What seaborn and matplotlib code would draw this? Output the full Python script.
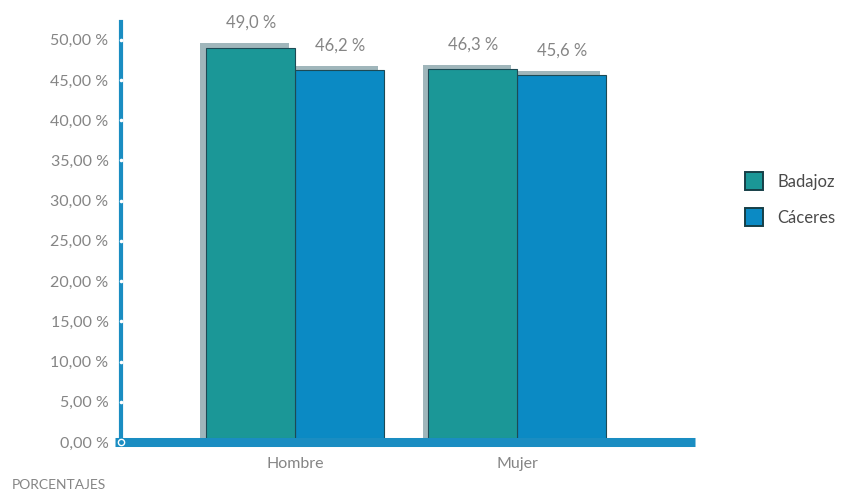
import pandas as pd
import matplotlib.pyplot as plt
import matplotlib.patheffects as pe
from matplotlib.lines import Line2D
import seaborn as sns

# Data: porcentajes por sexo y provincia
categorias = ['Hombre', 'Mujer']
provincias = ['Badajoz', 'Cáceres']
badajoz = [49.0, 46.3]
caceres = [46.2, 45.6]
yticks = [0, 5, 10, 15, 20, 25, 30, 35, 40, 45, 50]

df = pd.DataFrame({
    'Sexo': categorias * 2,
    'Provincia': [provincias[0]] * 2 + [provincias[1]] * 2,
    'Porcentaje': badajoz + caceres,
})

teal = '#1b9797'
blue = '#0b8ac4'
axis_blue = '#1a8dc2'
shadow = '#a0b6bb'
grey = '#858585'

sns.set_style('white')
plt.rcParams['font.family'] = ['Lato', 'DejaVu Sans']

fig = plt.figure(figsize=(8.48, 4.97), dpi=100)
ax = fig.add_axes([0.1427, 0.1107, 0.677, 0.845])

sns.barplot(data=df, x='Sexo', y='Porcentaje', hue='Provincia', hue_order=provincias,
            palette=[teal, blue], width=0.8, saturation=1, edgecolor='#1d4a55',
            linewidth=0.8, legend=False, ax=ax)

# shadows behind the bars; Badajoz on top of the Cáceres shadow
for z, cont in zip([3, 2], ax.containers):
    for p in cont:
        p.set_zorder(z)
        p.set_path_effects([pe.SimplePatchShadow(offset=(-4.3, 3.2), shadow_rgbFace=shadow, alpha=1),
                            pe.Normal()])

for cont in ax.containers:
    labels = [f'{v:.1f} %'.replace('.', ',') for v in cont.datavalues]
    ax.bar_label(cont, labels=labels, padding=12, color=grey, fontsize=12)

ax.set_xlim(-0.784, 1.80)
ax.set_ylim(0, 52.2)
ax.set_yticks(yticks)
ax.set_yticklabels([f'{v:.2f} %'.replace('.', ',') for v in yticks], color=grey, fontsize=11.5)
ax.tick_params(axis='y', length=0, pad=9)
ax.tick_params(axis='x', length=0, pad=11, labelcolor=grey, labelsize=11.5)
ax.set_xlabel('')
ax.set_ylabel('')

for s in ['top', 'right', 'bottom']:
    ax.spines[s].set_visible(False)
ax.spines['left'].set_color(axis_blue)
ax.spines['left'].set_linewidth(3)
ax.spines['left'].set_zorder(6)

# thick base bar
ax.plot([-0.81, 1.80], [0, 0], color=axis_blue, lw=6.5, solid_capstyle='butt',
        clip_on=False, zorder=5)
# small white dots on the axis at each tick
tr = ax.get_yaxis_transform()
ax.plot([0] * (len(yticks) - 1), yticks[1:], 'o', color='white', ms=1.6, transform=tr,
        clip_on=False, zorder=7)
ax.plot([0], [0], 'o', mfc=axis_blue, mec='white', mew=1, ms=4.5, transform=tr,
        clip_on=False, zorder=7)

handles = [Line2D([], [], marker='s', ls='', ms=13, mfc=c, mec='#163f47', mew=1.4)
           for c in [teal, blue]]
fig.legend(handles, provincias, loc='center left', bbox_to_anchor=(0.852, 0.597),
           frameon=False, fontsize=12, labelspacing=1.2, handletextpad=0.4,
           labelcolor='#4a4a4a')

fig.text(0.069, 0.024, 'PORCENTAJES', ha='center', va='center', color=grey, fontsize=10)

fig.savefig('out.png', dpi=100)
